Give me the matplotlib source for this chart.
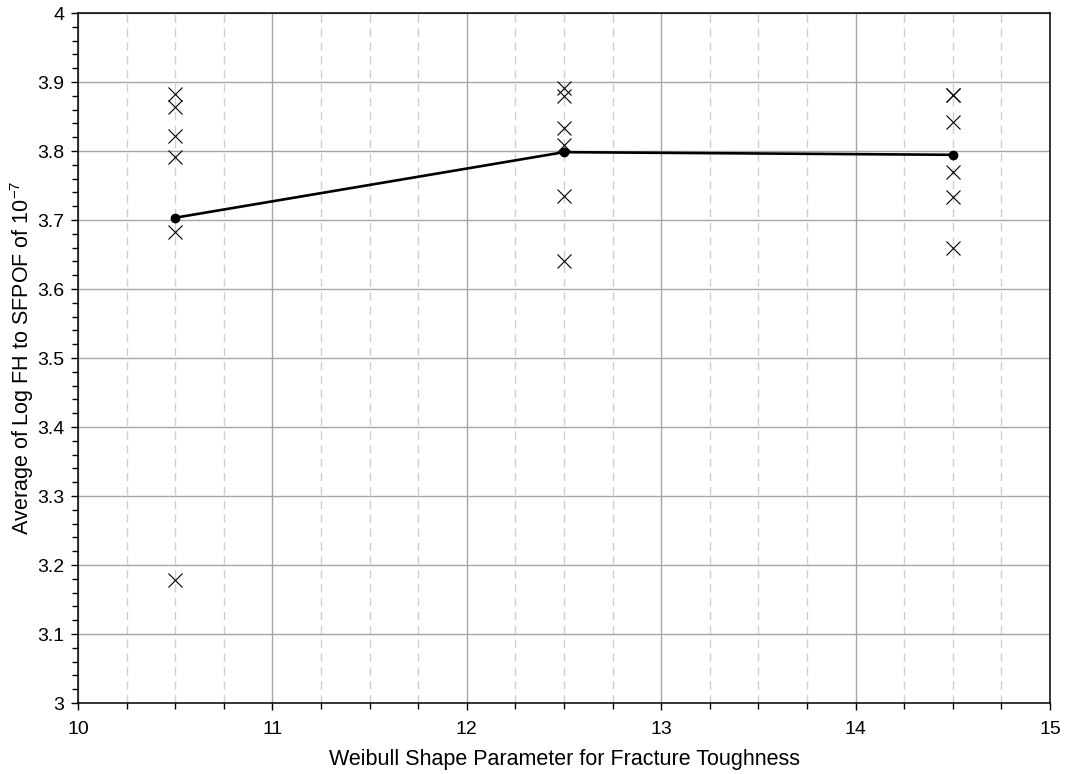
import matplotlib
matplotlib.use("Agg")
import matplotlib.pyplot as plt
from matplotlib.ticker import MultipleLocator, FuncFormatter

plt.rcParams['font.family'] = ['Liberation Sans', 'DejaVu Sans']
plt.rcParams['mathtext.fontset'] = 'custom'
plt.rcParams['mathtext.rm'] = 'Liberation Sans'
plt.rcParams['mathtext.it'] = 'Liberation Sans'

# Weibull shape parameter settings
shape_params = [10.5, 12.5, 14.5]

# Individual log flight hours to SFPOF of 1e-7 for each setting
runs_10_5 = [3.882, 3.864, 3.822, 3.791, 3.683, 3.178]
runs_12_5 = [3.892, 3.880, 3.834, 3.809, 3.735, 3.640]
runs_14_5 = [3.881, 3.881, 3.842, 3.769, 3.734, 3.660]

runs = [runs_10_5, runs_12_5, runs_14_5]
averages = [sum(r) / len(r) for r in runs]

fig = plt.figure(figsize=(10.66, 7.74), dpi=100)
ax = fig.add_axes([0.0732, 0.0917, 0.9118, 0.8915])

ax.set_xlim(10, 15)
ax.set_ylim(3, 4)

ax.xaxis.set_major_locator(MultipleLocator(1))
ax.xaxis.set_minor_locator(MultipleLocator(0.25))
ax.yaxis.set_major_locator(MultipleLocator(0.1))
ax.yaxis.set_minor_locator(MultipleLocator(0.02))
ax.yaxis.set_major_formatter(FuncFormatter(lambda v, p: f"{v:g}"))
ax.xaxis.set_major_formatter(FuncFormatter(lambda v, p: f"{v:g}"))

ax.grid(which='major', axis='both', color='#a6a6a6', linewidth=1.0, linestyle='-')
ax.grid(which='minor', axis='x', color='#cfcfcf', linewidth=1.0, linestyle=(0, (6, 4)))
ax.set_axisbelow(True)

for s in ax.spines.values():
    s.set_color('black')
    s.set_linewidth(1.1)

ax.tick_params(which='major', direction='out', length=5, width=1.0,
               labelsize=14, colors='black', pad=8)
ax.tick_params(which='minor', direction='out', length=4, width=1.0, colors='black')
ax.tick_params(axis='y', which='major', pad=5)

for x, r in zip(shape_params, runs):
    ax.plot([x] * len(r), r, linestyle='none', marker='x', markersize=9.5,
            markeredgewidth=0.8, color='black', zorder=3)

ax.plot(shape_params, averages, color='black', linewidth=1.9, marker='o',
        markersize=6, zorder=4)

ax.set_xlabel('Weibull Shape Parameter for Fracture Toughness', fontsize=15.5, labelpad=8)
ax.set_ylabel('Average of Log FH to SFPOF of 10$^{-7}$', fontsize=15.5, labelpad=8)
ax.yaxis.set_label_coords(-0.043, 0.5)

fig.savefig('out.png', dpi=100)
